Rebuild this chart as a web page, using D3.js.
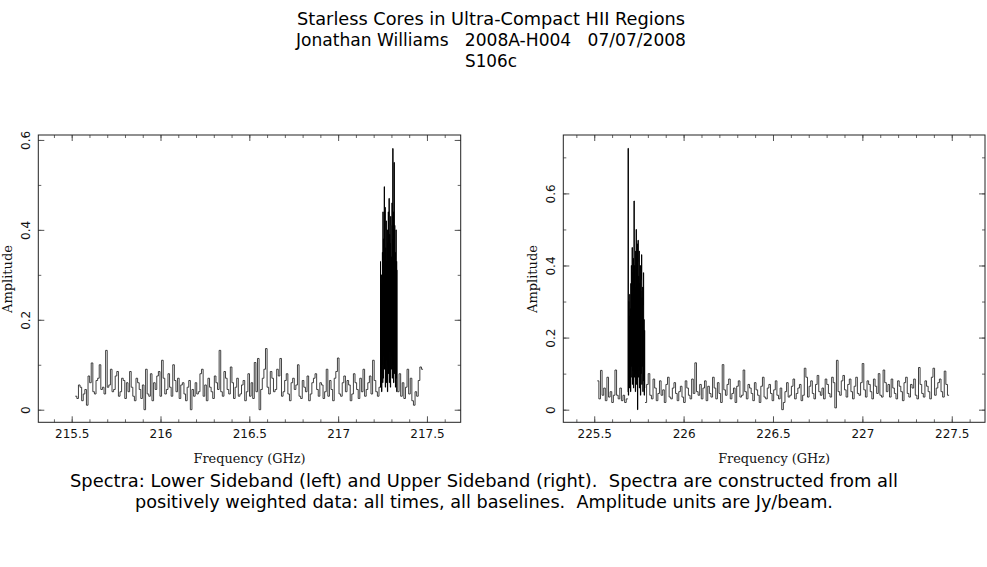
<!DOCTYPE html>
<html>
<head>
<meta charset="utf-8">
<script src="https://cdn.jsdelivr.net/npm/d3@7"></script>
<style>
  body { margin: 0; background: #fff; }
  svg { display: block; }
  text { white-space: pre; }
</style>
</head>
<body>
<script>

// channel widths (GHz)
const wideChan = 0.009;
const fineChan = 0.0015;

// lower sideband: low-res chunk, high-res line chunk, low-res chunk
const lsbStarts = [215.52, 217.237, 217.334];
const lsbLow1 = [
  .03,.025,.055,.05,.02,.035,.045,.01,.075,.06,
  .104,.04,.035,.065,.07,.10,.045,.05,.035,.132,
  .05,.055,.09,.04,.045,.075,.085,.03,.04,.07,
  .065,.025,.06,.04,.085,.05,.03,.02,.07,.06,
  .045,.025,.055,.0,.09,.035,.03,.08,.02,.06,
  .045,.075,.085,.03,.11,.07,.035,.045,.08,.05,
  .03,.10,.065,.04,.07,.025,.055,.06,.035,.02,
  .05,.065,.0,.045,.03,.06,.035,.04,.08,.09,
  .03,.055,.02,.07,.05,.04,.025,.075,.06,.045,
  .132,.04,.03,.085,.07,.045,.035,.095,.06,.025,
  .05,.07,.03,.035,.055,.065,.02,.04,.08,.03,
  .06,.025,.105,.04,.114,.0,.045,.07,.09,.136,
  .05,.035,.085,.07,.04,.045,.09,.075,.114,.03,
  .04,.065,.08,.035,.02,.06,.07,.045,.055,.10,
  .03,.025,.065,.05,.04,.075,.02,.035,.06,.07,
  .08,.045,.03,.06,.055,.025,.04,.09,.03,.065,
  .045,.02,.07,.085,.115,.035,.03,.06,.075,.04,
  .065,.055,.02,.035,.08,.06,.045,.025,.07,.04,
  .09,.03,.045,.06,.075,.035,.11,.065,.04,.03,
  .05
];
const lsbLine = [
  .33,.05,.28,.08,.30,.04,.22,.10,.35,.06,
  .44,.07,.38,.12,.30,.496,.09,.40,.45,.05,
  .36,.11,.42,.06,.33,.15,.40,.04,.37,.10,
  .44,.08,.35,.47,.06,.39,.13,.37,.05,.43,
  .41,.09,.34,.12,.46,.07,.38,.581,.10,.44,
  .06,.36,.55,.08,.41,.14,.35,.05,.30,.40,
  .07,.33,.04,.31
];
const lsbLow2 = [
  .04,.08,.03,.06,.025,.05,.09,.035,.07,.02,
  .01,.04,.03,.065,.095,.09
];

// upper sideband
const usbStarts = [225.517, 225.688, 225.784];
const usbLow1 = [
  .08,.03,.109,.04,.06,.025,.09,.035,.05,.02,
  .04,.11,.04,.03,.06,.025,.04,.02,.03
];
const usbLine = [
  .05,.725,.04,.30,.08,.26,.06,.32,.10,.28,
  .05,.35,.09,.40,.12,.33,.45,.07,.38,.11,
  .42,.06,.36,.579,.09,.40,.14,.34,.05,.44,
  .10,.50,.07,.39,.13,.46,.0,.41,.47,.09,
  .37,.12,.44,.06,.35,.11,.40,.04,.33,.10,
  .36,.43,.07,.31,.12,.34,.05,.29,.38,.08,
  .25,.04,.22,.06
];
const usbLow2 = [
  .02,.07,.10,.04,.03,.085,.06,.025,.045,.08,
  .04,.055,.02,.07,.09,.035,.03,.06,.075,.045,
  .025,.05,.065,.035,.02,.08,.06,.04,.03,.085,
  .045,.13,.05,.04,.07,.03,.06,.08,.025,.065,
  .045,.035,.09,.06,.03,.075,.045,.02,.125,.055,
  .04,.07,.085,.03,.045,.06,.02,.065,.08,.035,
  .04,.11,.05,.03,.07,.06,.045,.025,.075,.055,
  .04,.02,.065,.09,.035,.03,.06,.07,.045,.025,
  .055,.08,.04,.03,.06,.0,.02,.05,.075,.035,
  .04,.065,.085,.03,.045,.06,.07,.025,.04,.115,
  .09,.035,.065,.08,.045,.03,.07,.095,.05,.04,
  .06,.03,.085,.07,.045,.035,.09,.075,.005,.137,
  .05,.04,.08,.095,.055,.035,.07,.085,.05,.03,
  .065,.09,.045,.04,.075,.128,.055,.035,.08,.07,
  .05,.03,.085,.065,.045,.10,.04,.035,.11,.075,
  .05,.07,.035,.085,.06,.045,.03,.08,.065,.05,
  .025,.075,.09,.045,.035,.07,.06,.085,.04,.03,
  .117,.07,.045,.035,.08,.065,.05,.03,.09,.115,
  .04,.06,.075,.085,.05,.035,.107,.07,.04
];

const titleLines = [
  'Starless Cores in Ultra-Compact HII Regions',
  'Jonathan Williams   2008A-H004   07/07/2008',
  'S106c'
];
const titleWidths = [388, 390, 52];
const captionLines = [
  'Spectra: Lower Sideband (left) and Upper Sideband (right).  Spectra are constructed from all',
  'positively weighted data: all times, all baselines.  Amplitude units are Jy/beam.'
];
const captionWidths = [828, 698];

const W = 987, H = 567;

const svg = d3.select('body').append('svg')
  .attr('width', W)
  .attr('height', H);

// header
svg.append('g').selectAll('text')
  .data(titleLines)
  .join('text')
  .attr('x', 491)
  .attr('y', (d, i) => 25 + i * 21)
  .attr('text-anchor', 'middle')
  .attr('font-family', 'DejaVu Sans')
  .attr('font-size', 17)
  .attr('fill', '#000')
  .attr('textLength', (d, i) => titleWidths[i])
  .attr('lengthAdjust', 'spacingAndGlyphs')
  .text(d => d);

// caption
svg.append('g').selectAll('text')
  .data(captionLines)
  .join('text')
  .attr('x', 484)
  .attr('y', (d, i) => 487 + i * 21)
  .attr('text-anchor', 'middle')
  .attr('font-family', 'DejaVu Sans')
  .attr('font-size', 17)
  .attr('fill', '#000')
  .attr('textLength', (d, i) => captionWidths[i])
  .attr('lengthAdjust', 'spacingAndGlyphs')
  .text(d => d);

function toPoints(c) {
  const pts = c.values.map((v, i) => ({ f: c.start + i * c.width, v: v }));
  pts.push({ f: c.start + c.values.length * c.width, v: c.values[c.values.length - 1] });
  return pts;
}

function panel(opt) {
  const x = d3.scaleLinear().domain(opt.xDomain).range([opt.left, opt.right]);
  const y = d3.scaleLinear().domain(opt.yDomain).range([422.3, 135]);
  const g = svg.append('g');

  const line = d3.line()
    .x(d => x(d.f))
    .y(d => y(d.v))
    .curve(d3.curveStepAfter);

  g.selectAll('path.spec')
    .data(opt.chunks)
    .join('path')
    .attr('class', 'spec')
    .attr('fill', 'none')
    .attr('stroke', d => d.width === fineChan ? '#000' : '#2b2b2b')
    .attr('stroke-width', d => d.width === fineChan ? 1 : 0.9)
    .attr('d', d => line(toPoints(d)));

  const xMajor = d3.range(opt.xTicks[0], opt.xTicks[1] + 1e-6, 0.5);
  const xMinor = d3.range(Math.ceil(opt.xDomain[0] * 10) / 10, opt.xDomain[1], 0.1);
  const yMajor = d3.range(0, opt.yDomain[1], 0.2);
  const yMinor = d3.range(0, opt.yDomain[1], 0.1);

  const axes = [
    { name: 'b', ax: d3.axisBottom(x), pos: [0, 422.3], maj: xMajor, min: xMinor, lab: true },
    { name: 't', ax: d3.axisTop(x), pos: [0, 135], maj: xMajor, min: xMinor, lab: false },
    { name: 'l', ax: d3.axisLeft(y), pos: [opt.left, 0], maj: yMajor, min: yMinor, lab: true },
    { name: 'r', ax: d3.axisRight(y), pos: [opt.right, 0], maj: yMajor, min: yMinor, lab: false }
  ];

  axes.forEach(a => {
    // minor ticks
    g.append('g')
      .attr('transform', `translate(${a.pos})`)
      .call(a.ax.tickValues(a.min).tickSize(-3).tickFormat(''))
      .call(s => s.select('.domain').remove())
      .call(s => s.selectAll('line').attr('stroke', '#666'));
    // major ticks
    const ag = g.append('g')
      .attr('class', 'axis-' + a.name)
      .attr('transform', `translate(${a.pos})`)
      .call(a.ax.tickValues(a.maj).tickSize(-6).tickPadding(10)
        .tickFormat(a.lab ? d3.format('~g') : ''))
      .call(s => s.select('.domain').remove())
      .call(s => s.selectAll('line').attr('stroke', '#555'));
    ag.selectAll('text')
      .attr('font-family', 'DejaVu Sans')
      .attr('font-size', 12)
      .attr('fill', '#111');
  });

  // bottom labels, baseline near y=438
  g.selectAll('.axis-b text')
    .attr('y', 16.2)
    .attr('dy', null);
  // left labels read bottom-to-top
  g.selectAll('.axis-l text')
    .attr('x', 0)
    .attr('y', -8)
    .attr('dy', null)
    .attr('text-anchor', 'middle')
    .attr('transform', 'rotate(-90)');

  // frame
  g.append('rect')
    .attr('x', opt.left)
    .attr('y', 135)
    .attr('width', opt.right - opt.left)
    .attr('height', 422.3 - 135)
    .attr('fill', 'none')
    .attr('stroke', '#222')
    .attr('stroke-width', 1);

  g.append('text')
    .attr('x', (opt.left + opt.right) / 2)
    .attr('y', 463)
    .attr('text-anchor', 'middle')
    .attr('font-family', 'DejaVu Serif')
    .attr('font-size', 12)
    .attr('fill', '#111')
    .attr('textLength', 112)
    .attr('lengthAdjust', 'spacingAndGlyphs')
    .text('Frequency (GHz)');

  g.append('text')
    .attr('transform', `translate(${opt.left - 26},279) rotate(-90)`)
    .attr('text-anchor', 'middle')
    .attr('font-family', 'DejaVu Serif')
    .attr('font-size', 12)
    .attr('fill', '#111')
    .attr('textLength', 68)
    .attr('lengthAdjust', 'spacingAndGlyphs')
    .text('Amplitude');
}

panel({
  left: 38.3, right: 460.7,
  xDomain: [215.312, 217.69],
  yDomain: [-0.028, 0.611],
  xTicks: [215.5, 217.5],
  chunks: [
    { start: lsbStarts[0], width: wideChan, values: lsbLow1 },
    { start: lsbStarts[1], width: fineChan, values: lsbLine },
    { start: lsbStarts[2], width: wideChan, values: lsbLow2 }
  ]
});

panel({
  left: 563.3, right: 985,
  xDomain: [225.327, 227.686],
  yDomain: [-0.035, 0.762],
  xTicks: [225.5, 227.5],
  chunks: [
    { start: usbStarts[0], width: wideChan, values: usbLow1 },
    { start: usbStarts[1], width: fineChan, values: usbLine },
    { start: usbStarts[2], width: wideChan, values: usbLow2 }
  ]
});

</script>
</body>
</html>
